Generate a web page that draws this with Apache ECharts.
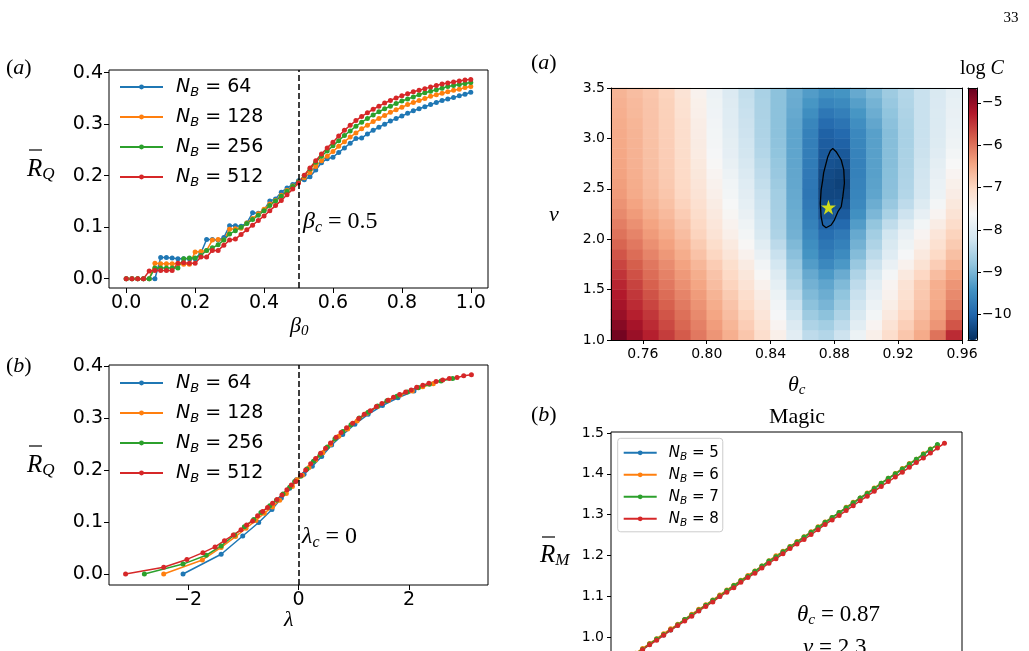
<!DOCTYPE html>
<html><head><meta charset="utf-8">
<script src="https://cdn.jsdelivr.net/npm/echarts@6/dist/echarts.min.js"></script>
<style>html,body{margin:0;padding:0;background:#fff}#c{width:1029px;height:651px}</style>
</head><body><div id="c"></div><script>
// ---------------- Panel (a) left : R_Q vs beta0 ----------------
const beta0 = [0,0.0167,0.0333,0.05,0.0667,0.0833,0.1,0.1167,0.1333,0.15,0.1667,0.1833,0.2,0.2167,0.2333,0.25,0.2667,0.2833,0.3,0.3167,0.3333,0.35,0.3667,0.3833,0.4,0.4167,0.4333,0.45,0.4667,0.4833,0.5,0.5167,0.5333,0.55,0.5667,0.5833,0.6,0.6167,0.6333,0.65,0.6667,0.6833,0.7,0.7167,0.7333,0.75,0.7667,0.7833,0.8,0.8167,0.8333,0.85,0.8667,0.8833,0.9,0.9167,0.9333,0.95,0.9667,0.9833,1.0];
const rqA_64 = [0,0,0,0,0,0,0.041,0.041,0.040,0.039,0.039,0.039,0.039,0.050,0.076,0.076,0.075,0.080,0.103,0.103,0.102,0.108,0.128,0.127,0.133,0.151,0.155,0.168,0.176,0.183,0.190,
 0.192,0.198,0.211,0.225,0.233,0.236,0.245,0.254,0.263,0.272,0.273,0.281,0.288,0.294,0.300,0.306,0.311,0.316,0.321,0.326,0.330,0.334,0.338,0.342,0.346,0.349,0.352,0.355,0.358,0.362];
const rqA_128 = [0,0,0,0,0,0.030,0.029,0.029,0.029,0.029,0.028,0.028,0.052,0.053,0.055,0.075,0.076,0.075,0.096,0.097,0.098,0.108,0.117,0.126,0.135,0.145,0.152,0.162,0.172,0.180,0.188,
 0.196,0.206,0.218,0.229,0.238,0.247,0.257,0.266,0.275,0.283,0.291,0.298,0.305,0.311,0.317,0.323,0.328,0.333,0.338,0.342,0.346,0.350,0.354,0.357,0.360,0.363,0.366,0.368,0.371,0.373];
const rqA_256 = [0,0,0,0,0,0.021,0.021,0.021,0.021,0.021,0.039,0.040,0.040,0.045,0.055,0.060,0.066,0.075,0.087,0.093,0.100,0.107,0.115,0.123,0.132,0.142,0.151,0.160,0.170,0.179,0.188,
 0.200,0.213,0.226,0.238,0.248,0.258,0.268,0.278,0.287,0.296,0.304,0.311,0.318,0.324,0.330,0.335,0.340,0.345,0.349,0.353,0.357,0.361,0.364,0.367,0.370,0.373,0.375,0.377,0.379,0.381];
const rqA_512 = [0,0,0,0,0.015,0.016,0.016,0.016,0.016,0.030,0.031,0.030,0.030,0.042,0.042,0.055,0.055,0.065,0.075,0.077,0.086,0.095,0.104,0.113,0.122,0.132,0.142,0.152,0.163,0.174,0.186,
 0.201,0.215,0.229,0.242,0.254,0.265,0.277,0.288,0.298,0.307,0.315,0.322,0.329,0.335,0.341,0.346,0.351,0.355,0.359,0.363,0.366,0.369,0.372,0.375,0.378,0.380,0.382,0.384,0.386,0.387];

// ---------------- Panel (b) left : R_Q vs lambda ----------------
const lamB_64 = [-2.09,-1.40,-1.01,-0.72,-0.48,-0.31,-0.16,-0.04,0.10,0.25,0.42,0.60,0.80,1.02,1.26,1.52,1.80,2.09];
const rqB_64  = [0,0.038,0.073,0.099,0.124,0.146,0.165,0.181,0.192,0.207,0.226,0.248,0.268,0.288,0.307,0.324,0.339,0.352];
const lamB_128 = [-2.44,-1.74,-1.40,-1.14,-0.95,-0.77,-0.62,-0.47,-0.34,-0.22,-0.11,-0.03,0.07,0.19,0.31,0.44,0.58,0.73,0.89,1.06,1.24,1.43,1.63,1.84,2.06,2.25,2.44];
const rqB_128  = [0,0.027,0.051,0.072,0.088,0.103,0.117,0.129,0.142,0.155,0.168,0.181,0.190,0.205,0.219,0.233,0.249,0.265,0.279,0.294,0.309,0.322,0.334,0.344,0.352,0.360,0.366];
const lamB_256 = [-2.79,-2.09,-1.67,-1.40,-1.16,-0.98,-0.81,-0.68,-0.52,-0.40,-0.28,-0.16,-0.07,0.04,0.15,0.27,0.39,0.52,0.66,0.80,0.95,1.10,1.26,1.43,1.60,1.78,1.97,2.17,2.37,2.58,2.79];
const rqB_256  = [0,0.019,0.036,0.054,0.075,0.091,0.105,0.118,0.131,0.142,0.154,0.167,0.178,0.188,0.202,0.217,0.229,0.244,0.260,0.274,0.287,0.300,0.311,0.323,0.333,0.342,0.350,0.358,0.365,0.371,0.376];
const lamB_512 = [-3.13,-2.44,-2.02,-1.73,-1.51,-1.34,-1.18,-1.04,-0.94,-0.83,-0.74,-0.65,-0.56,-0.47,-0.39,-0.30,-0.21,-0.13,-0.05,0.04,0.13,0.22,0.31,0.40,0.49,0.58,0.68,0.77,0.87,0.98,1.09,1.19,1.30,1.41,1.51,1.62,1.72,1.83,1.94,2.04,2.14,2.25,2.36,2.49,2.61,2.73,2.87,2.99,3.13];
const rqB_512  = [0,0.013,0.028,0.041,0.052,0.064,0.075,0.085,0.094,0.102,0.112,0.120,0.128,0.136,0.143,0.152,0.162,0.171,0.178,0.190,0.200,0.212,0.222,0.232,0.242,0.252,0.263,0.272,0.281,0.290,0.299,0.307,0.314,0.322,0.328,0.334,0.340,0.345,0.350,0.354,0.359,0.363,0.367,0.370,0.373,0.376,0.378,0.381,0.383];

// ---------------- Panel (a) right : log C heatmap ----------------
const thetaCenters = [0.745,0.755,0.765,0.775,0.785,0.795,0.805,0.815,0.825,0.835,0.845,0.855,0.865,0.875,0.885,0.895,0.905,0.915,0.925,0.935,0.945,0.955];
const nuCenters = [1.05,1.15,1.25,1.35,1.45,1.55,1.65,1.75,1.85,1.95,2.05,2.15,2.25,2.35,2.45,2.55,2.65,2.75,2.85,2.95,3.05,3.15,3.25,3.35,3.45];
const logC = [
 [-4.75,-5.05,-5.3,-5.55,-5.8,-6.05,-6.3,-6.55,-6.8,-7.1,-7.45,-7.95,-8.4,-8.5,-8.25,-7.8,-7.45,-7.1,-6.8,-6.5,-6.0,-5.4],
 [-4.9,-5.15,-5.4,-5.65,-5.9,-6.12,-6.37,-6.62,-6.88,-7.17,-7.55,-8.05,-8.55,-8.65,-8.4,-7.95,-7.55,-7.2,-6.9,-6.6,-6.3,-5.75],
 [-5.05,-5.3,-5.5,-5.75,-5.98,-6.2,-6.45,-6.7,-6.95,-7.25,-7.65,-8.2,-8.7,-8.85,-8.55,-8.1,-7.7,-7.33,-7.0,-6.7,-6.4,-5.95],
 [-5.15,-5.4,-5.62,-5.85,-6.06,-6.28,-6.52,-6.77,-7.03,-7.33,-7.72,-8.3,-8.85,-9.0,-8.7,-8.22,-7.8,-7.43,-7.1,-6.78,-6.48,-6.1],
 [-5.25,-5.5,-5.73,-5.95,-6.15,-6.36,-6.6,-6.85,-7.1,-7.4,-7.8,-8.42,-8.95,-9.1,-8.82,-8.3,-7.88,-7.5,-7.15,-6.82,-6.52,-6.2],
 [-5.35,-5.6,-5.85,-6.05,-6.25,-6.45,-6.7,-6.95,-7.2,-7.5,-7.9,-8.55,-9.05,-9.2,-8.95,-8.4,-7.95,-7.55,-7.2,-6.85,-6.55,-6.3],
 [-5.48,-5.72,-5.95,-6.13,-6.33,-6.53,-6.77,-7.02,-7.28,-7.6,-8.02,-8.65,-9.15,-9.35,-9.12,-8.55,-8.1,-7.68,-7.33,-7.0,-6.7,-6.43],
 [-5.62,-5.83,-6.04,-6.22,-6.42,-6.63,-6.87,-7.11,-7.38,-7.72,-8.17,-8.75,-9.3,-9.55,-9.35,-8.75,-8.27,-7.85,-7.5,-7.18,-6.88,-6.58],
 [-5.75,-5.95,-6.15,-6.32,-6.52,-6.75,-6.99,-7.24,-7.5,-7.85,-8.3,-8.87,-9.4,-9.7,-9.52,-8.92,-8.42,-8.0,-7.65,-7.33,-7.03,-6.73],
 [-5.88,-6.05,-6.25,-6.41,-6.61,-6.85,-7.09,-7.34,-7.6,-7.97,-8.42,-8.96,-9.48,-9.8,-9.65,-9.05,-8.55,-8.1,-7.76,-7.45,-7.15,-6.85],
 [-6.0,-6.15,-6.35,-6.5,-6.7,-6.95,-7.2,-7.45,-7.7,-8.1,-8.55,-9.05,-9.55,-9.9,-9.75,-9.15,-8.65,-8.2,-7.85,-7.55,-7.25,-6.95],
 [-6.1,-6.25,-6.43,-6.58,-6.78,-7.01,-7.26,-7.51,-7.77,-8.16,-8.59,-9.08,-9.63,-10.05,-9.95,-9.3,-8.8,-8.38,-8.03,-7.7,-7.4,-7.08],
 [-6.2,-6.35,-6.52,-6.67,-6.87,-7.08,-7.33,-7.58,-7.85,-8.22,-8.62,-9.1,-9.7,-10.2,-10.12,-9.45,-8.98,-8.6,-8.25,-7.88,-7.55,-7.2],
 [-6.28,-6.43,-6.59,-6.74,-6.94,-7.14,-7.39,-7.64,-7.9,-8.26,-8.64,-9.13,-9.75,-10.3,-10.25,-9.55,-9.1,-8.75,-8.4,-8.03,-7.68,-7.3],
 [-6.35,-6.5,-6.65,-6.8,-7.0,-7.2,-7.45,-7.7,-7.95,-8.3,-8.65,-9.15,-9.8,-10.35,-10.35,-9.6,-9.2,-8.85,-8.5,-8.15,-7.8,-7.4],
 [-6.38,-6.52,-6.68,-6.83,-7.02,-7.24,-7.5,-7.74,-8.0,-8.35,-8.7,-9.17,-9.78,-10.35,-10.4,-9.62,-9.23,-8.87,-8.53,-8.18,-7.83,-7.47],
 [-6.42,-6.55,-6.7,-6.85,-7.04,-7.28,-7.55,-7.8,-8.07,-8.4,-8.75,-9.18,-9.75,-10.3,-10.35,-9.65,-9.25,-8.88,-8.55,-8.21,-7.88,-7.55],
 [-6.45,-6.57,-6.72,-6.87,-7.06,-7.32,-7.6,-7.86,-8.13,-8.45,-8.78,-9.19,-9.72,-10.22,-10.25,-9.65,-9.25,-8.9,-8.57,-8.24,-7.93,-7.63],
 [-6.47,-6.58,-6.73,-6.88,-7.08,-7.36,-7.65,-7.91,-8.19,-8.5,-8.82,-9.2,-9.69,-10.15,-10.15,-9.62,-9.25,-8.9,-8.58,-8.27,-7.99,-7.7],
 [-6.49,-6.59,-6.74,-6.89,-7.09,-7.38,-7.68,-7.93,-8.22,-8.53,-8.84,-9.2,-9.67,-10.1,-10.05,-9.58,-9.25,-8.9,-8.6,-8.29,-8.03,-7.76],
 [-6.5,-6.6,-6.75,-6.9,-7.1,-7.4,-7.7,-7.95,-8.25,-8.55,-8.85,-9.2,-9.65,-10.05,-9.95,-9.55,-9.25,-8.9,-8.6,-8.3,-8.05,-7.8],
 [-6.52,-6.62,-6.76,-6.91,-7.12,-7.42,-7.72,-7.98,-8.27,-8.56,-8.85,-9.18,-9.58,-9.92,-9.82,-9.47,-9.18,-8.86,-8.58,-8.3,-8.06,-7.83],
 [-6.55,-6.65,-6.77,-6.92,-7.15,-7.45,-7.75,-8.0,-8.3,-8.57,-8.85,-9.15,-9.48,-9.78,-9.68,-9.38,-9.1,-8.82,-8.55,-8.3,-8.07,-7.85],
 [-6.57,-6.67,-6.78,-6.93,-7.17,-7.47,-7.77,-8.02,-8.32,-8.58,-8.85,-9.12,-9.38,-9.6,-9.53,-9.27,-9.03,-8.76,-8.52,-8.3,-8.08,-7.87],
 [-6.6,-6.7,-6.8,-6.95,-7.2,-7.5,-7.8,-8.05,-8.35,-8.6,-8.85,-9.1,-9.3,-9.45,-9.4,-9.15,-8.95,-8.7,-8.5,-8.3,-8.1,-7.9]
];
const contourTheta = [0.8790,0.8811,0.8843,0.8859,0.8863,0.8853,0.8843,0.8822,0.8800,0.8780,0.8748,0.8727,0.8717,0.8712,0.8717,0.8727,0.8733,0.8748,0.8759,0.8775,0.8790];
const contourNu    = [2.900,2.868,2.786,2.687,2.555,2.422,2.322,2.273,2.190,2.141,2.114,2.141,2.223,2.356,2.488,2.587,2.660,2.753,2.819,2.878,2.900];
const bestFit = [0.8763, 2.316];

// ---------------- Panel (b) right : Magic ----------------
const magicX = [0.05,0.07,0.09,0.11,0.13,0.15,0.17,0.19,0.21,0.23,0.25,0.27,0.29,0.31,0.33,0.35,0.37,0.39,0.41,0.43,0.45,0.47,0.49,0.51,0.53,0.55,0.57,0.59,0.61,0.63,0.65,0.67,0.69,0.71,0.73,0.75,0.77,0.79,0.81,0.83,0.85,0.87,0.89,0.91,0.93,0.95];
const rm5 = [0.946,0.958,0.969,0.982,0.994,1.005,1.017,1.029,1.042,1.053,1.065,1.077,1.089,1.100,1.113,1.125,1.137,1.148,1.160,1.173,1.185,1.196,1.208,1.220,1.232,1.244,1.256,1.268,1.280,1.292,1.304,1.316,1.328,1.340,1.351,1.363,1.376,1.388,1.399,1.411,1.423,1.435,1.447,1.459];
const rm6 = [0.949,0.960,0.972,0.984,0.996,1.008,1.020,1.031,1.043,1.056,1.068,1.079,1.091,1.103,1.115,1.127,1.139,1.151,1.162,1.174,1.187,1.199,1.210,1.222,1.234,1.246,1.258,1.270,1.282,1.293,1.305,1.318,1.330,1.341,1.353,1.365,1.377,1.389,1.401,1.413,1.425,1.436,1.449,1.461,1.470];
const rm7 = [0.947,0.959,0.970,0.983,0.995,1.006,1.018,1.030,1.043,1.054,1.066,1.078,1.090,1.101,1.114,1.126,1.138,1.149,1.161,1.174,1.186,1.197,1.209,1.221,1.233,1.245,1.257,1.269,1.281,1.293,1.305,1.317,1.329,1.341,1.352,1.364,1.377,1.389,1.400,1.412,1.424,1.436,1.448,1.460,1.472];
const rm8 = [0.946,0.957,0.969,0.981,0.992,1.004,1.017,1.028,1.039,1.051,1.064,1.075,1.086,1.099,1.110,1.121,1.134,1.146,1.156,1.169,1.181,1.192,1.204,1.217,1.228,1.239,1.251,1.263,1.276,1.287,1.298,1.310,1.322,1.334,1.345,1.357,1.369,1.381,1.392,1.404,1.416,1.428,1.439,1.451,1.463,1.475];

// ---------------- names and ticks ----------------
const namesQ = ['N_B = 64','N_B = 128','N_B = 256','N_B = 512'];
const namesM = ['N_B = 5','N_B = 6','N_B = 7','N_B = 8'];
const ticksBeta = [0,0.2,0.4,0.6,0.8,1.0];
const ticksRq = [0,0.1,0.2,0.3,0.4];
const ticksLam = [-2,0,2];
const ticksTheta = [0.76,0.80,0.84,0.88,0.92,0.96];
const ticksNu = [1.0,1.5,2.0,2.5,3.0,3.5];
const ticksLogC = [-10,-9,-8,-7,-6,-5];
const ticksRm = [1.0,1.1,1.2,1.3,1.4,1.5];

// ---------------- build ----------------
const SANS = 'DejaVu Sans', SERIF = 'Liberation Serif';
const COLORS = ['#1f77b4','#ff7f0e','#2ca02c','#d62728'];
const RDBU_R = ['#053061','#2166ac','#4393c3','#92c5de','#d1e5f0','#f7f7f7','#fddbc7','#f4a582','#d6604d','#b2182b','#67001f'];
const zip = (xs, ys) => ys.map((y, i) => [xs[i], y]);
const minus = s => String(s).replace('-', '\u2212');
const BLACK = { color: '#000', width: 1 };

function axisLabelCfg(ticks, fmt, fs, margin) {
  return { show: true, customValues: ticks, formatter: fmt, color: '#000', fontFamily: SANS, fontSize: fs, margin };
}
function valueAxis(gi, min, max, ticks, fmt, fs, margin, tickLen, extra) {
  return Object.assign({
    type: 'value', gridIndex: gi, min, max,
    axisLine: { show: false, onZero: false },
    axisTick: { show: true, customValues: ticks, length: tickLen, lineStyle: BLACK },
    axisLabel: axisLabelCfg(ticks, fmt, fs, margin),
    splitLine: { show: false }
  }, extra || {});
}
function lineOnly(gi, pos) {
  return {
    type: 'value', gridIndex: gi, position: pos, min: 0, max: 1, z: 10,
    axisLine: { show: true, onZero: false, lineStyle: BLACK },
    axisTick: { show: false }, axisLabel: { show: false }, splitLine: { show: false }
  };
}
const frameLine = { z: 10, axisLine: { show: true, onZero: false, lineStyle: BLACK } };

const f1 = v => v.toFixed(1), f2 = v => v.toFixed(2);
const xAxis = [
  valueAxis(0, -0.05, 1.05, ticksBeta, f1, 19, 6, 5),
  valueAxis(1, -3.43, 3.43, ticksLam, v => minus(v), 19, 6, 5),
  { type: 'category', gridIndex: 2, data: thetaCenters.map(String), show: false },
  valueAxis(3, 0.74, 0.96, ticksTheta, f2, 14, 7, 4, frameLine),
  lineOnly(3, 'top'),
  lineOnly(4, 'bottom'),
  lineOnly(4, 'top'),
  { type: 'value', gridIndex: 5, min: 0, max: 1, show: false }
];
const yAxis = [
  valueAxis(0, -0.018, 0.4052, ticksRq, f1, 19, 6, 5),
  valueAxis(1, -0.0212, 0.4019, ticksRq, f1, 19, 6, 5),
  { type: 'category', gridIndex: 2, data: nuCenters.map(String), show: false },
  valueAxis(3, 1.0, 3.5, ticksNu, f1, 14, 6, 4, frameLine),
  lineOnly(3, 'right'),
  lineOnly(4, 'left'),
  valueAxis(4, -10.6, -4.65, ticksLogC, v => minus(v), 14, 5, 4, Object.assign({ position: 'right' }, frameLine)),
  valueAxis(5, 0.9, 1.5025, ticksRm, f1, 14, 7, 4)
];

function lineSeries(name, xi, yi, data, color, extra) {
  return Object.assign({
    type: 'line', name, xAxisIndex: xi, yAxisIndex: yi, data,
    symbol: 'circle', symbolSize: 5, showSymbol: true, color,
    lineStyle: { color, width: 1.5 }, itemStyle: { color },
    emphasis: { disabled: true }, silent: true, animation: false
  }, extra || {});
}
const dashMark = x => ({ silent: true, symbol: ['none','none'], label: { show: false },
  lineStyle: { type: [6,3], color: '#000', width: 1.5 }, data: [{ xAxis: x }], animation: false });

const rqA = [rqA_64, rqA_128, rqA_256, rqA_512];
const lamB = [lamB_64, lamB_128, lamB_256, lamB_512];
const rqB = [rqB_64, rqB_128, rqB_256, rqB_512];
const rmAll = [rm5, rm6, rm7, rm8];

const series = [];
namesQ.forEach((n, i) => series.push(lineSeries(n, 0, 0, zip(beta0, rqA[i]), COLORS[i], i === 3 ? { markLine: dashMark(0.5) } : {})));
namesQ.forEach((n, i) => series.push(lineSeries(n, 1, 1, zip(lamB[i], rqB[i]), COLORS[i], i === 3 ? { markLine: dashMark(0) } : {})));
const heatData = [];
logC.forEach((row, j) => row.forEach((v, i) => heatData.push([i, j, v])));
series.push({ type: 'heatmap', xAxisIndex: 2, yAxisIndex: 2, data: heatData, silent: true, emphasis: { disabled: true }, itemStyle: { borderWidth: 0 }, progressive: 0 });
series.push({ type: 'line', xAxisIndex: 3, yAxisIndex: 3, data: zip(contourTheta, contourNu), showSymbol: false, symbol: 'none',
  lineStyle: { color: '#000', width: 1.3 }, silent: true, z: 5 });
series.push({ type: 'scatter', xAxisIndex: 3, yAxisIndex: 3, data: [bestFit], symbolSize: 15,
  symbol: 'path://M50,0 L61.2,34.5 L97.6,34.5 L68.2,55.9 L79.4,90.5 L50,69.1 L20.6,90.5 L31.8,55.9 L2.4,34.5 L38.8,34.5 Z',
  itemStyle: { color: '#ffff00' }, silent: true, z: 6 });
namesM.forEach((n, i) => series.push(lineSeries(n, 7, 7, zip(magicX, rmAll[i]), COLORS[i])));

const nbFmt = name => '{i|N}{s|B}{t| = ' + name.split('= ')[1] + '}';
const legRich = (fs, sfs, pad, lead) => ({
  i: { fontFamily: SANS, fontStyle: 'italic', fontSize: fs, color: '#000', padding: [0,0,0,lead] },
  s: { fontFamily: SANS, fontStyle: 'italic', fontSize: sfs, color: '#000', padding: [pad,0,0,0] },
  t: { fontFamily: SANS, fontSize: fs, color: '#000' }
});
const legendBig = (top) => ({ data: namesQ, left: 119, top, orient: 'vertical', itemWidth: 43, itemHeight: 6, itemGap: 8,
  selectedMode: false, padding: 0, formatter: nbFmt, textStyle: { rich: legRich(19, 13, 12, 8) } });

const mathRich = (fs, sfs, pad) => ({
  g: { fontFamily: SERIF, fontStyle: 'italic', fontSize: fs, color: '#000' },
  s: { fontFamily: SERIF, fontStyle: 'italic', fontSize: sfs, color: '#000', padding: [pad,0,0,0] },
  t: { fontFamily: SERIF, fontSize: fs, color: '#000' }
});
const RT = (x, y, text, rich, align) => ({ type: 'text', x, y, silent: true, z: 20,
  style: { text, rich, fill: '#000', textAlign: align || 'left', textVerticalAlign: 'middle' } });
const LN = (x1, y1, x2, y2) => ({ type: 'line', silent: true, z: 20, shape: { x1, y1, x2, y2 }, style: { stroke: '#000', lineWidth: 1.2 } });
const big = mathRich(22, 15, 10);
const ann = mathRich(24, 16, 11);
const ann2 = mathRich(23, 15.5, 10);
const ylab = mathRich(25, 17, 12);

const graphic = [
  RT(1011, 18, '{t|33}', mathRich(15, 10, 0), 'center'),
  RT(6, 68, '{t|(}{g|a}{t|)}', big),
  RT(6, 366, '{t|(}{g|b}{t|)}', big),
  RT(531, 63, '{t|(}{g|a}{t|)}', big),
  RT(531, 415, '{t|(}{g|b}{t|)}', big),
  RT(27, 169, '{g|R}{s|Q}', ylab), LN(29, 150, 42, 150),
  RT(27, 465, '{g|R}{s|Q}', ylab), LN(29, 446, 42, 446),
  RT(540, 555, '{g|R}{s|M}', ylab), LN(542, 537, 555, 537),
  RT(290, 326, '{g|β}{s|0}', big),
  RT(284, 620, '{g|λ}', big),
  RT(549, 215, '{g|ν}', big),
  RT(788, 385, '{g|θ}{s|c}', big),
  RT(960, 69, '{t|log}{g| C}', mathRich(20, 14, 0)),
  RT(797, 417, '{t|Magic}', big, 'center'),
  RT(303, 222, '{g|β}{s|c}{t| = 0.5}', ann),
  RT(302, 537, '{g|λ}{s|c}{t| = 0}', ann),
  RT(797, 615, '{g|θ}{s|c}{t| = 0.87}', ann2),
  RT(803, 648, '{g|ν}{t| = 2.3}', ann2)
];

const G = (o) => Object.assign({ outerBoundsMode: 'none', containLabel: false }, o);
const option = {
  animation: false,
  backgroundColor: '#fff',
  grid: [
    G({ left: 109, top: 70, width: 379, height: 218, show: true, borderColor: '#000', borderWidth: 1, backgroundColor: 'transparent' }),
    G({ left: 109, top: 365, width: 379, height: 220, show: true, borderColor: '#000', borderWidth: 1, backgroundColor: 'transparent' }),
    G({ left: 611, top: 88, width: 351, height: 252 }),
    G({ left: 611, top: 88, width: 351, height: 252 }),
    G({ left: 968, top: 88, width: 9, height: 252 }),
    G({ left: 611, top: 432, width: 351, height: 245.8, show: true, borderColor: '#000', borderWidth: 1, backgroundColor: 'transparent' })
  ],
  xAxis, yAxis, series, graphic,
  legend: [
    legendBig(77.5),
    legendBig(373.5),
    { data: namesM, left: 617.7, top: 438.3, orient: 'vertical', itemWidth: 33, itemHeight: 6, itemGap: 4.5,
      selectedMode: false, padding: [7, 4, 3, 5], borderColor: '#cccccc', borderWidth: 1, borderRadius: 3,
      backgroundColor: 'rgba(255,255,255,0.8)', formatter: nbFmt, textStyle: { rich: legRich(15, 10.5, 9, 7) } }
  ],
  visualMap: [{
    type: 'continuous', min: -10.6, max: -4.65, seriesIndex: 8, inRange: { color: RDBU_R },
    orient: 'vertical', left: 968, top: 88, itemWidth: 9, itemHeight: 252, padding: 0,
    calculable: false, hoverLink: false, realtime: false
  }]
};
const chart = echarts.init(document.getElementById('c'), null, { renderer: 'canvas' });
chart.setOption(option);
</script></body></html>
